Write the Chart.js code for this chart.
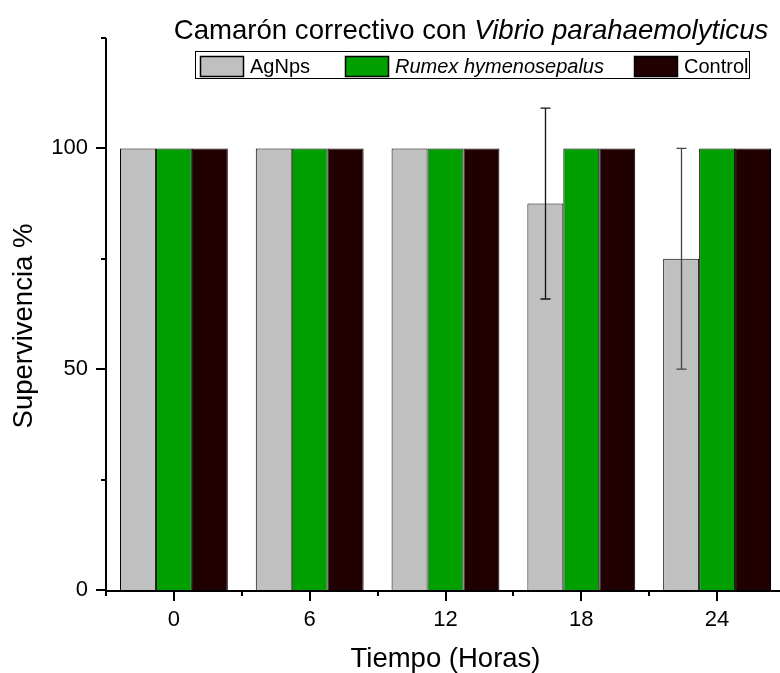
<!DOCTYPE html>
<html>
<head>
<meta charset="utf-8">
<script src="https://cdn.jsdelivr.net/npm/chart.js@4.4.1/dist/chart.umd.min.js"></script>
<style>
  html, body { margin: 0; padding: 0; background: #fff; overflow: hidden; }
  canvas { display: block; }
</style>
</head>
<body>
<canvas id="grafico" width="800" height="673"></canvas>
<script>
// datos (supervivencia % por hora)
const horas = ['0', '6', '12', '18', '24'];
const agnps = [100, 100, 100, 87.5, 75];
const agnpsError = [0, 0, 0, 21.6, 25];
const rumex = [100, 100, 100, 100, 100];
const control = [100, 100, 100, 100, 100];
const etiquetasY = [0, 50, 100];

const fuente = "'Liberation Sans', Arial, sans-serif";

const dibujoOrigin = {
  id: 'dibujoOrigin',
  afterDatasetsDraw(chart) {
    // barras de error de AgNps
    const ctx = chart.ctx, y = chart.scales.y;
    const meta = chart.getDatasetMeta(0);
    ctx.save();
    ctx.lineWidth = 1.3;
    agnpsError.forEach((e, i) => {
      if (!e) return;
      ctx.strokeStyle = i === 3 ? '#111' : '#444';
      const x = Math.round(meta.data[i].x) + 0.5;
      const y1 = y.getPixelForValue(agnps[i] + e);
      const y2 = y.getPixelForValue(agnps[i] - e);
      ctx.beginPath();
      ctx.moveTo(x, y1); ctx.lineTo(x, y2);
      ctx.moveTo(x - 5, y1); ctx.lineTo(x + 5, y1);
      ctx.moveTo(x - 5, y2); ctx.lineTo(x + 5, y2);
      ctx.stroke();
    });
    ctx.restore();
  },
  afterDraw(chart) {
    const ctx = chart.ctx, area = chart.chartArea;
    const xs = chart.scales.x, ys = chart.scales.y;
    ctx.save();
    ctx.strokeStyle = '#000';
    ctx.fillStyle = '#000';

    // ejes
    ctx.lineWidth = 2;
    ctx.beginPath();
    ctx.moveTo(area.left, area.top);
    ctx.lineTo(area.left, area.bottom + 2);
    ctx.moveTo(area.left - 1, area.bottom + 1);
    ctx.lineTo(area.right, area.bottom + 1);
    ctx.stroke();

    // marcas del eje y
    for (let v = 0; v <= 125; v += 25) {
      const py = Math.round(ys.getPixelForValue(v));
      const len = v % 50 === 0 ? 10 : 5;
      ctx.beginPath();
      ctx.moveTo(area.left - len, py);
      ctx.lineTo(area.left, py);
      ctx.stroke();
    }
    // marcas del eje x
    for (let i = 0; i <= horas.length; i++) {
      const pb = Math.round(xs.getPixelForValue(i - 0.5));
      ctx.beginPath();
      ctx.moveTo(pb, area.bottom);
      ctx.lineTo(pb, area.bottom + 6);
      ctx.stroke();
      if (i < horas.length) {
        const pc = Math.round(xs.getPixelForValue(i));
        ctx.beginPath();
        ctx.moveTo(pc, area.bottom);
        ctx.lineTo(pc, area.bottom + 11);
        ctx.stroke();
      }
    }

    // titulos de ejes
    ctx.font = '27.5px ' + fuente;
    ctx.textAlign = 'center';
    ctx.textBaseline = 'alphabetic';
    ctx.fillText('Tiempo (Horas)', (area.left + area.right) / 2, 667);
    ctx.save();
    ctx.translate(24, 326);
    ctx.rotate(-Math.PI / 2);
    ctx.textBaseline = 'middle';
    ctx.fillText('Supervivencia %', 0, 0);
    ctx.restore();

    // titulo con parte en cursiva
    const t1 = 'Camarón correctivo con ', t2 = 'Vibrio parahaemolyticus';
    ctx.textAlign = 'left';
    ctx.font = '27.6px ' + fuente;
    const w1 = ctx.measureText(t1).width;
    ctx.font = 'italic 27.6px ' + fuente;
    const w2 = ctx.measureText(t2).width;
    const x0 = 471 - (w1 + w2) / 2;
    ctx.font = '27.6px ' + fuente;
    ctx.fillText(t1, x0, 39);
    ctx.font = 'italic 27.6px ' + fuente;
    ctx.fillText(t2, x0 + w1, 39);

    // leyenda
    ctx.fillStyle = '#fff';
    ctx.fillRect(195, 51, 554, 27);
    ctx.lineWidth = 1;
    ctx.strokeStyle = '#000';
    ctx.strokeRect(195.5, 51.5, 554, 27);
    const posLeyenda = [200, 345, 634];
    chart.data.datasets.forEach((ds, i) => {
      const lx = posLeyenda[i];
      ctx.fillStyle = ds.backgroundColor;
      ctx.fillRect(lx, 56, 44, 21);
      ctx.lineWidth = 1.5;
      ctx.strokeRect(lx + 0.5, 56.5, 43, 20);
      ctx.fillStyle = '#000';
      ctx.font = (ds.cursiva ? 'italic ' : '') + '20px ' + fuente;
      ctx.textBaseline = 'middle';
      ctx.fillText(ds.label, lx + 50, 67);
    });
    ctx.restore();
  }
};

new Chart(document.getElementById('grafico'), {
  type: 'bar',
  data: {
    labels: horas,
    datasets: [
      { label: 'AgNps', data: agnps, backgroundColor: '#c0c0c0' },
      { label: 'Rumex hymenosepalus', data: rumex, backgroundColor: '#009f00', cursiva: true },
      { label: 'Control', data: control, backgroundColor: '#200000' }
    ]
  },
  options: {
    responsive: false,
    animation: false,
    devicePixelRatio: 1,
    layout: { padding: { top: 38, right: 15, left: 0, bottom: 0 } },
    datasets: {
      bar: {
        categoryPercentage: 108 / 136,
        barPercentage: 1,
        borderColor: '#000',
        borderWidth: 1
      }
    },
    plugins: {
      legend: { display: false },
      title: { display: false },
      tooltip: { enabled: false }
    },
    scales: {
      x: {
        grid: { display: false, drawTicks: false },
        border: { display: false },
        ticks: { color: '#000', font: { family: fuente, size: 22 }, padding: 17, maxRotation: 0 },
        afterFit: s => { s.height = 83; }
      },
      y: {
        min: 0,
        max: 125,
        grid: { display: false, drawTicks: false },
        border: { display: false },
        ticks: {
          stepSize: 25,
          color: '#000',
          font: { family: fuente, size: 22 },
          padding: 18,
          callback: v => etiquetasY.includes(v) ? String(v) : ''
        },
        afterFit: s => { s.width = 106; }
      }
    }
  },
  plugins: [dibujoOrigin]
});
</script>
</body>
</html>
